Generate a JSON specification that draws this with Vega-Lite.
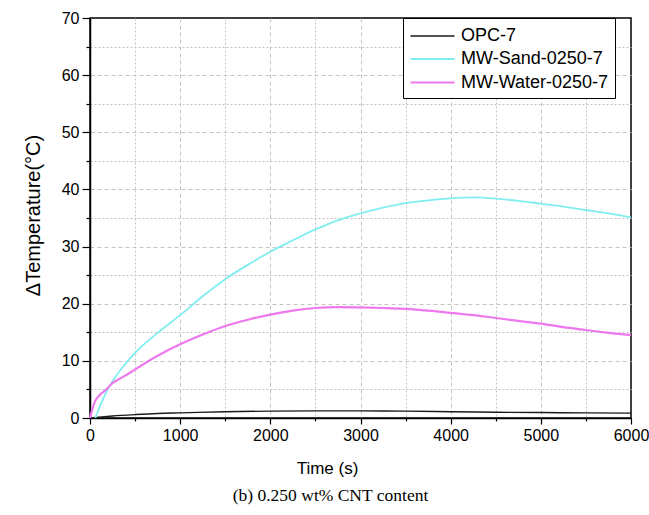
{
  "$schema": "https://vega.github.io/schema/vega-lite/v6.json",
  "width": 541,
  "height": 400,
  "autosize": {"type": "none"},
  "padding": {"left": 90, "top": 18, "right": 18, "bottom": 97},
  "background": "white",
  "config": {
    "view": {"stroke": "black", "strokeWidth": 1.5},
    "font": "Liberation Sans"
  },
  "title": {
    "text": "(b) 0.250 wt% CNT content",
    "orient": "bottom",
    "anchor": "middle",
    "font": "Liberation Serif",
    "fontSize": 17.5,
    "fontWeight": "normal",
    "color": "black",
    "offset": 11,
    "dx": -30
  },
  "data": {
    "values": [
      {"s": "OPC-7", "t": 0, "v": 0},
      {"s": "OPC-7", "t": 100, "v": 0.15},
      {"s": "OPC-7", "t": 250, "v": 0.35},
      {"s": "OPC-7", "t": 500, "v": 0.6},
      {"s": "OPC-7", "t": 750, "v": 0.8},
      {"s": "OPC-7", "t": 1000, "v": 0.9},
      {"s": "OPC-7", "t": 1500, "v": 1.1},
      {"s": "OPC-7", "t": 2000, "v": 1.2},
      {"s": "OPC-7", "t": 2500, "v": 1.25},
      {"s": "OPC-7", "t": 3000, "v": 1.25},
      {"s": "OPC-7", "t": 3500, "v": 1.2},
      {"s": "OPC-7", "t": 4000, "v": 1.1},
      {"s": "OPC-7", "t": 4500, "v": 1.0},
      {"s": "OPC-7", "t": 5000, "v": 0.95},
      {"s": "OPC-7", "t": 5500, "v": 0.9},
      {"s": "OPC-7", "t": 6000, "v": 0.85},
      {"s": "MW-Sand-0250-7", "t": 60, "v": 0},
      {"s": "MW-Sand-0250-7", "t": 100, "v": 1.7},
      {"s": "MW-Sand-0250-7", "t": 150, "v": 3.5},
      {"s": "MW-Sand-0250-7", "t": 213, "v": 5.5},
      {"s": "MW-Sand-0250-7", "t": 300, "v": 7.6},
      {"s": "MW-Sand-0250-7", "t": 400, "v": 9.6},
      {"s": "MW-Sand-0250-7", "t": 500, "v": 11.4},
      {"s": "MW-Sand-0250-7", "t": 750, "v": 14.9},
      {"s": "MW-Sand-0250-7", "t": 1000, "v": 18.0},
      {"s": "MW-Sand-0250-7", "t": 1250, "v": 21.3},
      {"s": "MW-Sand-0250-7", "t": 1500, "v": 24.3},
      {"s": "MW-Sand-0250-7", "t": 1750, "v": 26.8},
      {"s": "MW-Sand-0250-7", "t": 2000, "v": 29.1},
      {"s": "MW-Sand-0250-7", "t": 2250, "v": 31.1},
      {"s": "MW-Sand-0250-7", "t": 2500, "v": 33.0},
      {"s": "MW-Sand-0250-7", "t": 2750, "v": 34.6},
      {"s": "MW-Sand-0250-7", "t": 3000, "v": 35.8},
      {"s": "MW-Sand-0250-7", "t": 3250, "v": 36.8},
      {"s": "MW-Sand-0250-7", "t": 3500, "v": 37.6},
      {"s": "MW-Sand-0250-7", "t": 3750, "v": 38.1},
      {"s": "MW-Sand-0250-7", "t": 4000, "v": 38.45},
      {"s": "MW-Sand-0250-7", "t": 4250, "v": 38.6},
      {"s": "MW-Sand-0250-7", "t": 4500, "v": 38.4},
      {"s": "MW-Sand-0250-7", "t": 4750, "v": 38.0},
      {"s": "MW-Sand-0250-7", "t": 5000, "v": 37.5},
      {"s": "MW-Sand-0250-7", "t": 5250, "v": 37.0},
      {"s": "MW-Sand-0250-7", "t": 5500, "v": 36.4},
      {"s": "MW-Sand-0250-7", "t": 5750, "v": 35.8},
      {"s": "MW-Sand-0250-7", "t": 6000, "v": 35.1},
      {"s": "MW-Water-0250-7", "t": 0, "v": 0},
      {"s": "MW-Water-0250-7", "t": 20, "v": 1.2},
      {"s": "MW-Water-0250-7", "t": 55, "v": 2.9},
      {"s": "MW-Water-0250-7", "t": 100, "v": 3.9},
      {"s": "MW-Water-0250-7", "t": 150, "v": 4.6},
      {"s": "MW-Water-0250-7", "t": 200, "v": 5.3},
      {"s": "MW-Water-0250-7", "t": 240, "v": 6.0},
      {"s": "MW-Water-0250-7", "t": 300, "v": 6.6},
      {"s": "MW-Water-0250-7", "t": 400, "v": 7.5},
      {"s": "MW-Water-0250-7", "t": 500, "v": 8.5},
      {"s": "MW-Water-0250-7", "t": 750, "v": 10.9},
      {"s": "MW-Water-0250-7", "t": 1000, "v": 12.9},
      {"s": "MW-Water-0250-7", "t": 1250, "v": 14.6},
      {"s": "MW-Water-0250-7", "t": 1500, "v": 16.1},
      {"s": "MW-Water-0250-7", "t": 1750, "v": 17.2},
      {"s": "MW-Water-0250-7", "t": 2000, "v": 18.1},
      {"s": "MW-Water-0250-7", "t": 2250, "v": 18.8},
      {"s": "MW-Water-0250-7", "t": 2500, "v": 19.25},
      {"s": "MW-Water-0250-7", "t": 2750, "v": 19.4},
      {"s": "MW-Water-0250-7", "t": 3000, "v": 19.35},
      {"s": "MW-Water-0250-7", "t": 3250, "v": 19.25},
      {"s": "MW-Water-0250-7", "t": 3500, "v": 19.1},
      {"s": "MW-Water-0250-7", "t": 3750, "v": 18.8},
      {"s": "MW-Water-0250-7", "t": 4000, "v": 18.4},
      {"s": "MW-Water-0250-7", "t": 4250, "v": 18.0},
      {"s": "MW-Water-0250-7", "t": 4500, "v": 17.5},
      {"s": "MW-Water-0250-7", "t": 4750, "v": 17.0},
      {"s": "MW-Water-0250-7", "t": 5000, "v": 16.5},
      {"s": "MW-Water-0250-7", "t": 5250, "v": 15.9},
      {"s": "MW-Water-0250-7", "t": 5500, "v": 15.4},
      {"s": "MW-Water-0250-7", "t": 5750, "v": 14.9},
      {"s": "MW-Water-0250-7", "t": 6000, "v": 14.5}
    ]
  },
  "mark": {"type": "line", "interpolate": "monotone"},
  "encoding": {
    "x": {
      "field": "t",
      "type": "quantitative",
      "scale": {"domain": [0, 6000], "nice": false},
      "axis": {
        "title": "Time (s)",
        "titleFont": "Liberation Sans",
        "titleFontSize": 17,
        "titleFontWeight": "normal",
        "titleColor": "black",
        "titleX": 237,
        "titleY": 50,
        "titleAlign": "center",
        "titleBaseline": "middle",
        "values": [0, 500, 1000, 1500, 2000, 2500, 3000, 3500, 4000, 4500, 5000, 5500, 6000],
        "labelExpr": "datum.value % 1000 === 0 ? datum.label : ''",
        "format": "d",
        "labelFontSize": 16,
        "labelColor": "black",
        "labelPadding": 3,
        "labelFlush": false,
        "labelOverlap": false,
        "domainColor": "black",
        "domainWidth": 1.5,
        "tickColor": "black",
        "tickWidth": 1.2,
        "tickSize": {"condition": {"test": "datum.value % 1000 === 0", "value": 6}, "value": 3},
        "grid": true,
        "gridColor": "#c4c4c4",
        "gridWidth": 1,
        "gridDash": {"condition": {"test": "datum.value % 1000 === 0", "value": [4, 3]}, "value": [2, 2]},
        "gridOpacity": {"condition": {"test": "datum.value === 0 || datum.value === 6000", "value": 0}, "value": 1}
      }
    },
    "y": {
      "field": "v",
      "type": "quantitative",
      "scale": {"domain": [0, 70], "nice": false},
      "axis": {
        "title": "ΔTemperature(°C)",
        "titleFont": "Liberation Sans",
        "titleFontSize": 20,
        "titleFontWeight": "normal",
        "titleColor": "black",
        "titleX": -57,
        "titleY": 197,
        "titleAlign": "center",
        "titleBaseline": "middle",
        "titleAngle": 270,
        "values": [0, 5, 10, 15, 20, 25, 30, 35, 40, 45, 50, 55, 60, 65, 70],
        "labelExpr": "datum.value % 10 === 0 ? datum.label : ''",
        "labelFontSize": 16,
        "labelColor": "black",
        "labelPadding": 3,
        "labelFlush": false,
        "labelOverlap": false,
        "domainColor": "black",
        "domainWidth": 1.5,
        "tickColor": "black",
        "tickWidth": 1.2,
        "tickSize": {"condition": {"test": "datum.value % 10 === 0", "value": 8}, "value": 4},
        "grid": true,
        "gridColor": "#c4c4c4",
        "gridWidth": 1,
        "gridDash": {"condition": {"test": "datum.value % 10 === 0", "value": [4, 3]}, "value": [2, 2]},
        "gridOpacity": {"condition": {"test": "datum.value === 0 || datum.value === 70", "value": 0}, "value": 1}
      }
    },
    "color": {
      "field": "s",
      "type": "nominal",
      "scale": {
        "domain": ["OPC-7", "MW-Sand-0250-7", "MW-Water-0250-7"],
        "range": ["#1a1a1a", "#80eef0", "#ee78ee"]
      },
      "legend": {
        "title": null,
        "orient": "none",
        "legendX": 313,
        "legendY": 0,
        "symbolType": "M-1,0L3,0",
        "symbolSize": 484,
        "symbolStrokeWidth": 1.5,
        "labelFont": "Liberation Sans",
        "labelFontSize": 18,
        "labelColor": "black",
        "labelOffset": 27,
        "padding": 6,
        "rowPadding": 2,
        "strokeColor": "black",
        "fillColor": "white"
      }
    },
    "strokeWidth": {
      "field": "s",
      "type": "nominal",
      "scale": {
        "domain": ["OPC-7", "MW-Sand-0250-7", "MW-Water-0250-7"],
        "range": [1.4, 2.2, 2.2]
      },
      "legend": null
    },
    "order": {"field": "t", "type": "quantitative"}
  }
}
